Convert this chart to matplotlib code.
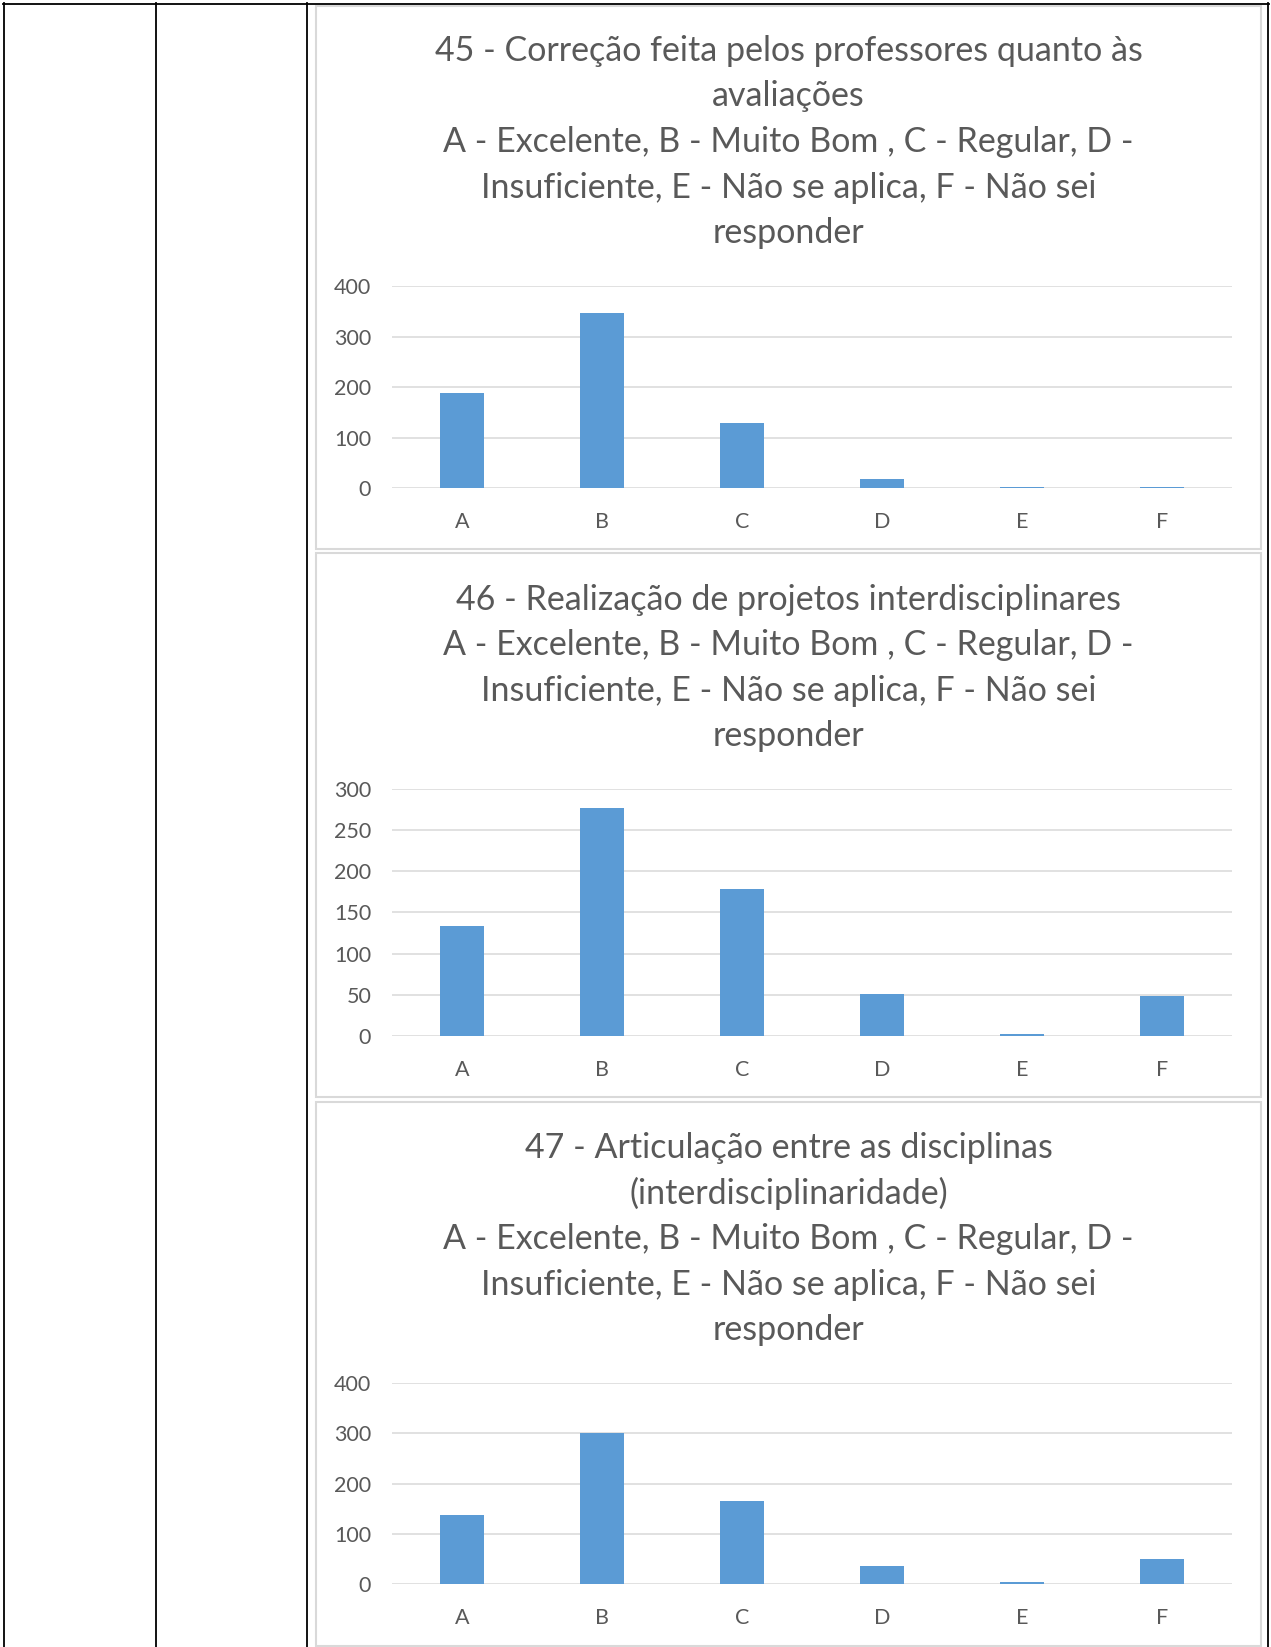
import matplotlib
matplotlib.use("Agg")
import matplotlib.pyplot as plt
from matplotlib.lines import Line2D
from matplotlib.patches import Rectangle

W, H = 1271, 1647

categories = ['A', 'B', 'C', 'D', 'E', 'F']
q45_values = [189, 346, 130, 19, 2, 3]
q46_values = [133, 277, 179, 51, 3, 49]
q47_values = [137, 301, 165, 36, 4, 50]

q45_title = ['45 - Correção feita pelos professores quanto às',
             'avaliações',
             'A - Excelente, B - Muito Bom , C - Regular, D -',
             'Insuficiente, E - Não se aplica, F - Não sei',
             'responder']
q46_title = ['46 - Realização de projetos interdisciplinares',
             'A - Excelente, B - Muito Bom , C - Regular, D -',
             'Insuficiente, E - Não se aplica, F - Não sei',
             'responder']
q47_title = ['47 - Articulação entre as disciplinas',
             '(interdisciplinaridade)',
             'A - Excelente, B - Muito Bom , C - Regular, D -',
             'Insuficiente, E - Não se aplica, F - Não sei',
             'responder']

q45_ticks = [0, 100, 200, 300, 400]
q46_ticks = [0, 50, 100, 150, 200, 250, 300]
q47_ticks = [0, 100, 200, 300, 400]

BAR_COLOR = '#5B9BD5'
GRID_COLOR = '#D9D9D9'
TEXT_COLOR = '#595959'
FONT = 'Lato'


def fx(x):
    return x / W


def fy(y):
    return 1 - y / H


def draw_table(fig):
    # black cell borders of the document table
    for x in [4, 155.7, 306.7, 1268.3]:
        fig.add_artist(Line2D([fx(x), fx(x)], [fy(3.3), fy(H + 2)], color='black', linewidth=1.3))
    fig.add_artist(Line2D([fx(3.3), fx(1269)], [fy(4), fy(4)], color='black', linewidth=1.3))


def draw_chart(fig, frame, title_lines, title_ys, values, ticks, plot_top, plot_bottom):
    x0, y0, x1, y1 = frame
    fig.add_artist(Rectangle((fx(x0), fy(y1)), fx(x1 - x0), (y1 - y0) / H,
                             fill=False, edgecolor=GRID_COLOR, linewidth=1.5))
    cx = (x0 + x1) / 2
    for line, ty in zip(title_lines, title_ys):
        fig.text(fx(cx), fy(ty + 2), line, ha='center', va='center', fontsize=24.5,
                 color=TEXT_COLOR, family=FONT)

    left, right = 392, 1232
    ax = fig.add_axes([fx(left), fy(plot_bottom), fx(right - left), (plot_bottom - plot_top) / H])
    ax.bar(range(len(categories)), values, width=0.314, color=BAR_COLOR, zorder=3)
    ax.set_xlim(-0.5, len(categories) - 0.5)
    ax.set_ylim(ticks[0], ticks[-1])
    ax.set_yticks(ticks)
    ax.set_xticks(range(len(categories)))
    ax.set_xticklabels(categories)
    ax.yaxis.grid(True, color=GRID_COLOR, linewidth=1.1, zorder=0)
    ax.set_axisbelow(True)
    for side in ['top', 'right', 'left', 'bottom']:
        ax.spines[side].set_visible(False)
    ax.tick_params(axis='both', length=0, colors=TEXT_COLOR, labelsize=15.5)
    ax.tick_params(axis='y', pad=15)
    ax.tick_params(axis='x', pad=17)
    for lbl in ax.get_xticklabels() + ax.get_yticklabels():
        lbl.set_family(FONT)
    ax.patch.set_alpha(0)
    return ax


fig = plt.figure(figsize=(W / 100, H / 100), dpi=100)
draw_table(fig)

draw_chart(fig, (316, 5.7, 1261, 549.3), q45_title,
           [49.4, 94.5, 139.7, 185.9, 231.0], q45_values, q45_ticks, 286, 488.3)
draw_chart(fig, (316, 553, 1261, 1097), q46_title,
           [597.7, 642.9, 689.0, 734.2], q46_values, q46_ticks, 789, 1036)
draw_chart(fig, (316, 1102, 1261, 1645.7), q47_title,
           [1146.0, 1191.0, 1237.4, 1282.6, 1327.7], q47_values, q47_ticks, 1382.7, 1584.3)

fig.savefig('out.png', dpi=100)
